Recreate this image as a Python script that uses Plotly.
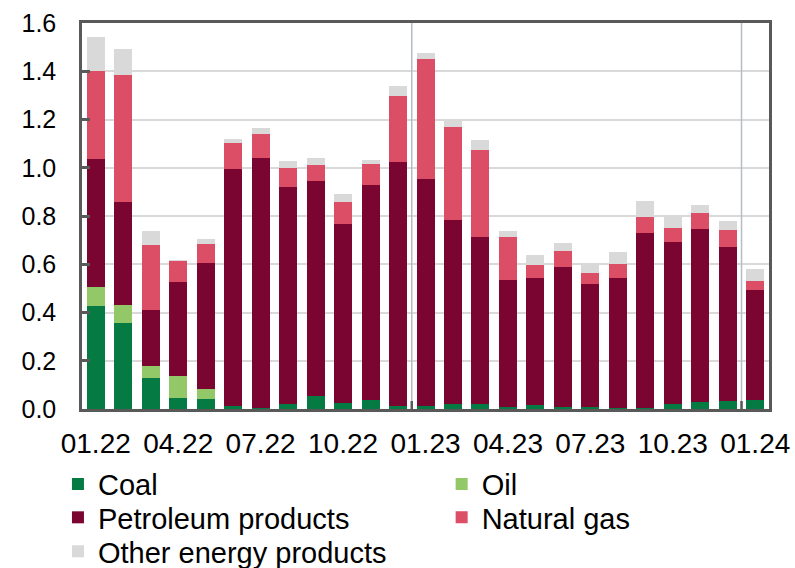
import plotly.graph_objects as go

# Monthly periods (MM.YY)
months = [
    "01.22", "02.22", "03.22", "04.22", "05.22", "06.22", "07.22", "08.22",
    "09.22", "10.22", "11.22", "12.22", "01.23", "02.23", "03.23", "04.23",
    "05.23", "06.23", "07.23", "08.23", "09.23", "10.23", "11.23", "12.23",
    "01.24",
]

coal = [0.425, 0.358, 0.130, 0.047, 0.041, 0.014, 0.005, 0.022, 0.053, 0.026,
        0.036, 0.012, 0.014, 0.022, 0.019, 0.010, 0.015, 0.008, 0.007, 0.005,
        0.005, 0.019, 0.029, 0.033, 0.036]
oil = [0.080, 0.074, 0.048, 0.090, 0.042, 0.0, 0.0, 0.0, 0.0, 0.0,
       0.0, 0.0, 0.0, 0.0, 0.0, 0.0, 0.0, 0.0, 0.0, 0.0,
       0.0, 0.0, 0.0, 0.0, 0.0]
petroleum = [0.530, 0.428, 0.234, 0.390, 0.524, 0.979, 1.035, 0.900, 0.894, 0.740,
             0.892, 1.010, 0.939, 0.761, 0.696, 0.525, 0.530, 0.582, 0.513, 0.540,
             0.724, 0.673, 0.717, 0.639, 0.457]
natural_gas = [0.365, 0.523, 0.267, 0.087, 0.078, 0.109, 0.101, 0.075, 0.064, 0.093,
               0.086, 0.277, 0.498, 0.384, 0.357, 0.176, 0.051, 0.066, 0.044, 0.057,
               0.065, 0.060, 0.066, 0.072, 0.039]
other = [0.140, 0.111, 0.057, 0.003, 0.020, 0.018, 0.025, 0.031, 0.030, 0.033,
         0.018, 0.038, 0.025, 0.025, 0.044, 0.025, 0.042, 0.033, 0.036, 0.047,
         0.068, 0.042, 0.034, 0.037, 0.050]

tick_labels = months[::3]
y_ticks = [0.0, 0.2, 0.4, 0.6, 0.8, 1.0, 1.2, 1.4, 1.6]

# name, values, colour, legend slot (column, row)
series = [
    ("Coal", coal, "#057a43", (0, 0)),
    ("Oil", oil, "#92c868", (1, 0)),
    ("Petroleum products", petroleum, "#7a0530", (0, 1)),
    ("Natural gas", natural_gas, "#dc4d66", (1, 1)),
    ("Other energy products", other, "#d9d9d9", (0, 2)),
]

FONT = "Liberation Sans, Arial, sans-serif"
FRAME = "#595959"

# Legend grid below the plot (paper coordinates)
LEG_COL_X = [-0.035, 0.5235]
LEG_ROW_Y = [-0.195, -0.281, -0.369]

fig = go.Figure()
legends = {}
for i, (name, vals, color, (col, row)) in enumerate(series):
    key = "legend" if i == 0 else f"legend{i + 1}"
    fig.add_trace(go.Bar(x=months, y=vals, name=name, legend=key,
                         marker=dict(color=color, line=dict(width=0))))
    legends[key] = dict(
        x=LEG_COL_X[col], xanchor="left",
        y=LEG_ROW_Y[row], yanchor="middle",
        orientation="v",
        font=dict(size=29, family=FONT, color="black"),
        bgcolor="rgba(0,0,0,0)", borderwidth=0,
        itemclick=False, itemdoubleclick=False,
    )

# Year separators
for pos in (11.5, 23.5):
    fig.add_shape(type="line", xref="x", yref="paper", x0=pos, x1=pos, y0=0, y1=1,
                  line=dict(color="#b4bcc4", width=1.5), layer="above")
    fig.add_shape(type="line", xref="x", yref="y", x0=pos, x1=pos,
                  ysizemode="pixel", yanchor=0, y0=0, y1=8,
                  line=dict(color=FRAME, width=2.5), layer="above")

fig.update_layout(
    barmode="stack",
    bargap=0.345,
    width=795, height=568,
    margin=dict(l=82, r=26, t=23, b=159, autoexpand=False),
    paper_bgcolor="white", plot_bgcolor="white",
    font=dict(family=FONT, color="black"),
    showlegend=True,
    xaxis=dict(
        type="category",
        tickmode="array", tickvals=tick_labels, ticktext=tick_labels,
        ticks="", showgrid=False,
        showline=True, linecolor=FRAME, linewidth=2.5, mirror=True,
        tickfont=dict(size=28, family=FONT),
        ticklabelstandoff=8,
        range=[-0.5, len(months) - 0.5],
    ),
    yaxis=dict(
        range=[0, 1.6],
        tickvals=y_ticks, tickformat=".1f",
        ticks="inside", ticklen=8, tickwidth=2.5, tickcolor=FRAME,
        showgrid=True, gridcolor="#d9d9d9", gridwidth=1.5,
        showline=True, linecolor=FRAME, linewidth=2.5, mirror=True,
        zeroline=False,
        tickfont=dict(size=25, family=FONT),
        ticklabelstandoff=18,
    ),
)
fig.update_layout(**legends)

fig.write_html("out.html")
